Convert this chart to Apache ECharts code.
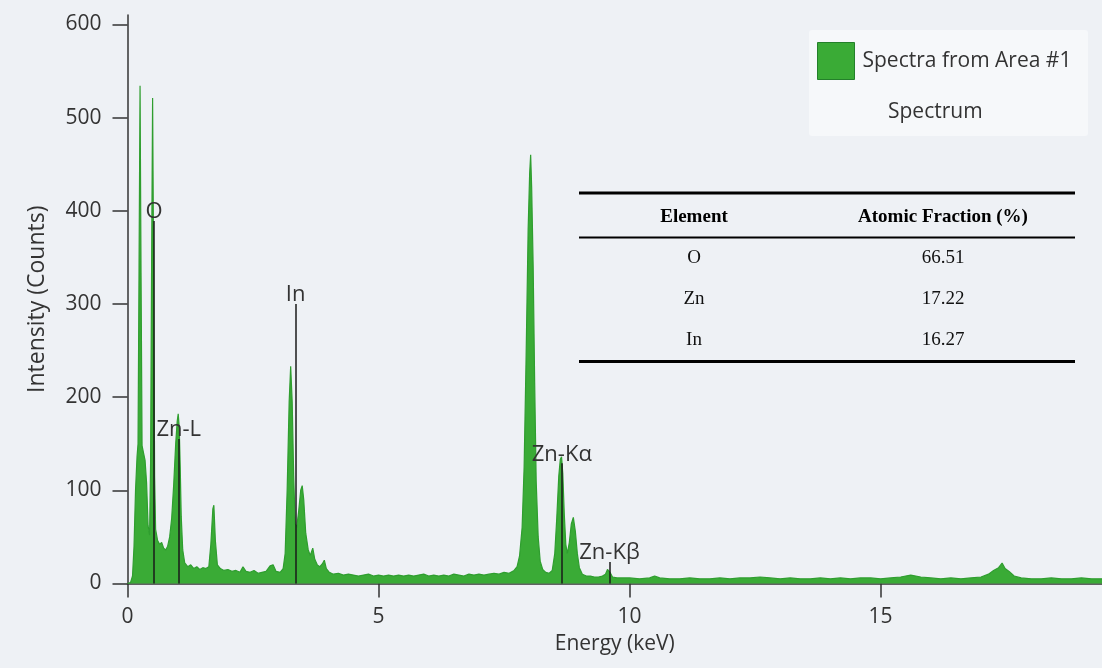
<!DOCTYPE html>
<html>
<head>
<meta charset="utf-8">
<script src="https://cdn.jsdelivr.net/npm/echarts@6/dist/echarts.min.js"></script>
<style>
  html, body { margin: 0; padding: 0; background: #eef1f5; }
  #EdsSpectrumEcharts { width: 1102px; height: 668px; }
</style>
</head>
<body>
<div id="EdsSpectrumEcharts"></div>
<script>
// energy (keV) and counts
var energy = [
  0.00, 0.06, 0.10, 0.13, 0.16, 0.19, 0.21, 0.23, 0.25, 0.27, 0.29, 0.32, 0.35, 0.38, 0.41, 0.44,
  0.46, 0.48, 0.50, 0.52, 0.54, 0.56, 0.60, 0.64, 0.68, 0.72, 0.76, 0.80, 0.84, 0.88, 0.92, 0.96,
  0.99, 1.01, 1.03, 1.05, 1.07, 1.10, 1.14, 1.20, 1.26, 1.32, 1.38, 1.44, 1.50, 1.56, 1.62, 1.66,
  1.70, 1.72, 1.75, 1.79, 1.85, 1.92, 2.00, 2.08, 2.16, 2.24, 2.30, 2.36, 2.44, 2.52, 2.60, 2.68,
  2.76, 2.84, 2.90, 2.96, 3.04, 3.10, 3.14, 3.18, 3.22, 3.25, 3.28, 3.31, 3.34, 3.37, 3.41, 3.45,
  3.48, 3.51, 3.55, 3.60, 3.64, 3.69, 3.73, 3.78, 3.83, 3.88, 3.92, 3.96, 4.02, 4.10, 4.20, 4.30,
  4.40, 4.50, 4.60, 4.70, 4.80, 4.90, 5.00, 5.10, 5.20, 5.30, 5.40, 5.50, 5.60, 5.70, 5.80, 5.90,
  6.00, 6.10, 6.20, 6.30, 6.40, 6.50, 6.60, 6.70, 6.80, 6.90, 7.00, 7.10, 7.20, 7.30, 7.40, 7.50,
  7.60, 7.70, 7.76, 7.81, 7.86, 7.90, 7.94, 7.98, 8.01, 8.03, 8.05, 8.08, 8.11, 8.14, 8.18, 8.22,
  8.27, 8.33, 8.40, 8.46, 8.51, 8.55, 8.59, 8.62, 8.645, 8.67, 8.70, 8.73, 8.76, 8.80, 8.84, 8.88,
  8.92, 8.96, 9.00, 9.06, 9.14, 9.22, 9.30, 9.38, 9.46, 9.52, 9.56, 9.58, 9.61, 9.66, 9.75, 9.85,
  10.0, 10.2, 10.4, 10.5, 10.6, 10.8, 11.0, 11.2, 11.4, 11.6, 11.8, 12.0, 12.2, 12.4, 12.6, 12.8,
  13.0, 13.2, 13.4, 13.6, 13.8, 14.0, 14.2, 14.4, 14.6, 14.8, 15.0, 15.2, 15.4, 15.6, 15.8, 16.0,
  16.2, 16.4, 16.6, 16.8, 17.0, 17.15, 17.25, 17.35, 17.42, 17.48, 17.56, 17.66, 17.8, 18.0, 18.2, 18.4,
  18.6, 18.8, 19.0, 19.2, 19.41
];
var counts = [
  0, 1, 8, 40, 100, 136, 150, 340, 534, 330, 148, 140, 132, 108, 62, 52,
  130, 340, 521, 340, 115, 58, 46, 42, 44, 38, 36, 40, 50, 70, 106, 150,
  174, 182, 168, 125, 72, 36, 22, 18, 20, 16, 18, 15, 17, 16, 18, 42,
  80, 84, 46, 20, 16, 14, 15, 13, 14, 12, 18, 13, 12, 14, 11, 12,
  13, 19, 20, 13, 12, 16, 32, 100, 195, 233, 195, 115, 64, 60, 78, 100,
  105, 90, 54, 36, 30, 38, 26, 20, 18, 21, 25, 16, 12, 10, 11, 9,
  10, 9, 8, 9, 10, 8, 9, 8, 9, 8, 9, 8, 9, 8, 9, 10,
  8, 9, 8, 9, 8, 10, 9, 8, 10, 9, 10, 9, 10, 11, 10, 12,
  11, 14, 18, 30, 60, 125, 245, 380, 440, 460, 425, 340, 215, 110, 50, 24,
  15, 12, 11, 14, 32, 70, 115, 133, 136, 118, 74, 42, 32, 44, 64, 71,
  56, 32, 17, 10, 8, 8, 7, 7, 8, 10, 15, 17, 12, 7, 6, 6,
  6, 5, 6, 8, 6, 5, 5, 6, 5, 5, 6, 5, 6, 6, 7, 6,
  5, 6, 5, 5, 6, 5, 6, 5, 6, 6, 5, 6, 7, 9, 7, 6,
  5, 6, 5, 6, 7, 10, 14, 17, 22, 16, 13, 8, 6, 5, 5, 6,
  5, 5, 6, 5, 5
];

// element marker lines
var markerNames = ["O", "Zn-L", "In", "Zn-Kα", "Zn-Kβ"];
var markerEnergy = [0.53, 1.02, 3.35, 8.65, 9.6];
var markerTop = [389, 155, 300, 129, 23];

// axis ticks
var xTicks = [0, 5, 10, 15];
var yTicks = [0, 100, 200, 300, 400, 500, 600];

// inset table
var tableHeader = ["Element", "Atomic Fraction (%)"];
var tableElements = ["O", "Zn", "In"];
var tableFractions = ["66.51", "17.22", "16.27"];

var seriesName = "Spectra from Area #1";
var green = "#3aab36";

var chartDom = document.getElementById("EdsSpectrumEcharts");
var myChart = echarts.init(chartDom);

var font = "'Open Sans', 'Noto Sans', sans-serif";
var serif = "'Liberation Serif', 'DejaVu Serif', serif";

// table graphics
var tableLeft = 579, tableRight = 1075;
var colX = [694, 943];
var rowY = [258, 299, 340];
var tableGraphic = [
  { type: "line", shape: { x1: tableLeft, y1: 193, x2: tableRight, y2: 193 }, style: { stroke: "#000", lineWidth: 3 } },
  { type: "line", shape: { x1: tableLeft, y1: 237.5, x2: tableRight, y2: 237.5 }, style: { stroke: "#000", lineWidth: 2 } },
  { type: "line", shape: { x1: tableLeft, y1: 361.5, x2: tableRight, y2: 361.5 }, style: { stroke: "#000", lineWidth: 3 } }
];
tableHeader.forEach(function (h, i) {
  tableGraphic.push({
    type: "text", x: colX[i], y: 217,
    style: { text: h, font: "bold 19px " + serif, fill: "#000", align: "center", verticalAlign: "middle" }
  });
});
tableElements.forEach(function (el, i) {
  tableGraphic.push({
    type: "text", x: colX[0], y: rowY[i],
    style: { text: el, font: "19px " + serif, fill: "#111", align: "center", verticalAlign: "middle" }
  });
  tableGraphic.push({
    type: "text", x: colX[1], y: rowY[i],
    style: { text: tableFractions[i], font: "19px " + serif, fill: "#111", align: "center", verticalAlign: "middle" }
  });
});

var option = {
  backgroundColor: "#eef1f5",
  animation: false,
  grid: { left: 127.5, right: 0, top: 15, bottom: 84.5, containLabel: false },
  legend: {
    left: 817,
    top: 42,
    padding: 0,
    itemWidth: 37,
    itemHeight: 37,
    data: [{ name: seriesName, icon: "rect", itemStyle: { color: green, borderColor: "#23802a", borderWidth: 1 } }],
    textStyle: { fontSize: 21, color: "#333", fontFamily: font, padding: [0, 0, 0, 3] }
  },
  graphic: [
    { type: "rect", z: -1, shape: { x: 809, y: 30, width: 279, height: 106, r: 3 }, style: { fill: "#f6f8fa" } },
    { type: "text", x: 888, y: 112, style: { text: "Spectrum", font: "21px " + font, fill: "#333", verticalAlign: "middle" } }
  ].concat(tableGraphic),
  xAxis: {
    type: "value",
    min: 0,
    max: 19.41,
    name: "Energy (keV)",
    nameLocation: "middle",
    nameGap: 50,
    nameTextStyle: { fontSize: 21, color: "#333", fontFamily: font },
    axisLine: { lineStyle: { color: "#333", width: 1.5 } },
    axisTick: { customValues: xTicks, length: 14, lineStyle: { color: "#333", width: 1.5 } },
    axisLabel: { customValues: xTicks, margin: 23, fontSize: 21, color: "#333", fontFamily: font },
    splitLine: { show: false }
  },
  yAxis: {
    type: "value",
    min: 0,
    max: 610,
    name: "Intensity (Counts)",
    nameLocation: "middle",
    nameGap: 79,
    nameTextStyle: { fontSize: 23, color: "#333", fontFamily: font },
    axisLine: { show: true, lineStyle: { color: "#333", width: 1.5 } },
    axisTick: { show: true, customValues: yTicks, length: 15, lineStyle: { color: "#333", width: 1.5 } },
    axisLabel: { customValues: yTicks, margin: 26, fontSize: 21, color: "#333", fontFamily: font },
    splitLine: { show: false }
  },
  series: [
    {
      name: seriesName,
      type: "line",
      data: energy.map(function (e, i) { return [e, counts[i]]; }),
      symbol: "none",
      lineStyle: { color: "#2f9e2f", width: 1.2 },
      itemStyle: { color: green },
      areaStyle: { color: green, opacity: 1 },
      markLine: {
        silent: true,
        symbol: "none",
        lineStyle: { color: "#1a1a1a", width: 1.5, type: "solid" },
        label: {
          position: "end",
          distance: -2,
          fontSize: 22,
          color: "#333",
          fontFamily: font,
          formatter: function (p) { return p.name; }
        },
        data: markerNames.map(function (n, i) {
          return [
            { name: n, coord: [markerEnergy[i], 0] },
            { coord: [markerEnergy[i], markerTop[i]] }
          ];
        })
      }
    }
  ]
};

option && myChart.setOption(option);
</script>
</body>
</html>
